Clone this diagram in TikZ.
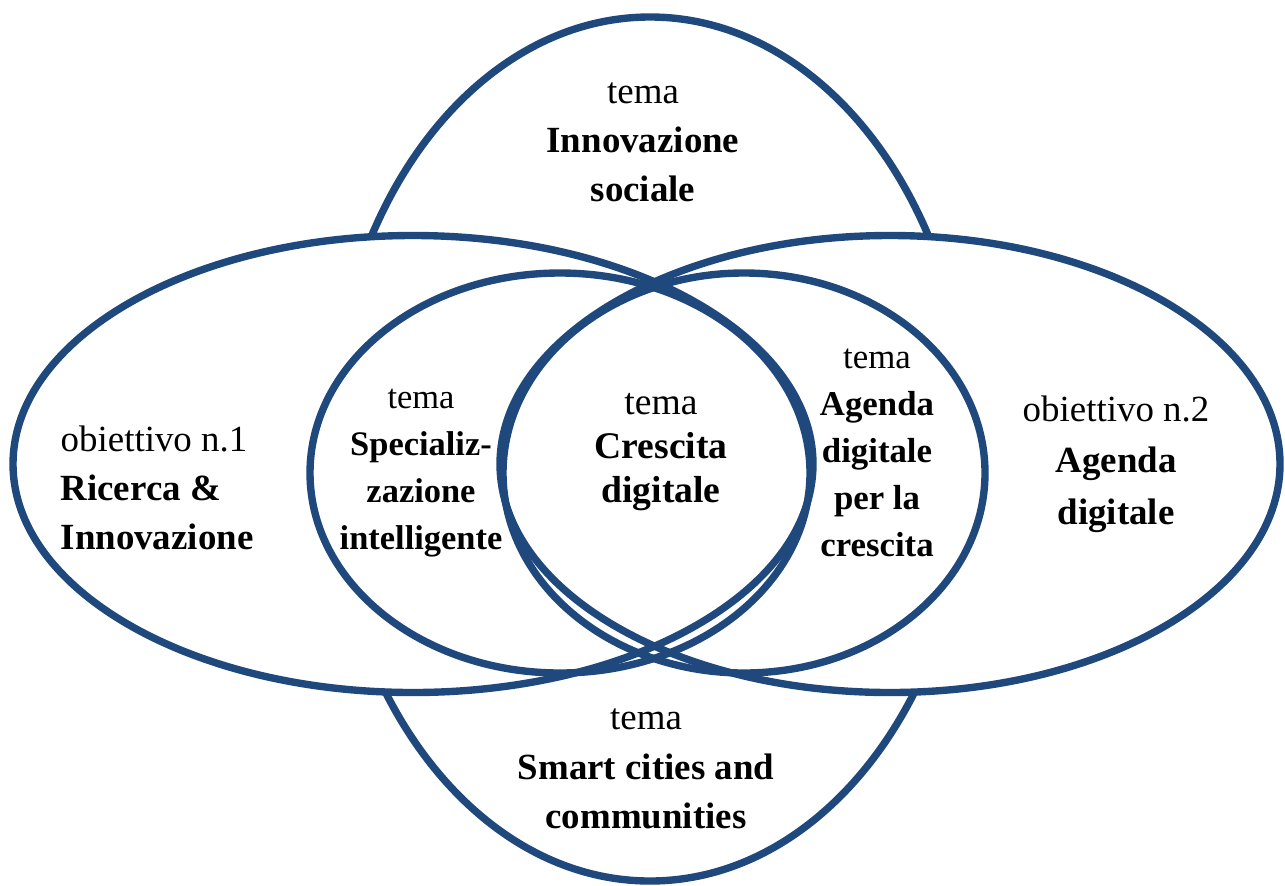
\documentclass[tikz,border=0pt]{standalone}
\usepackage{fontspec}
\setmainfont{Liberation Serif}
\definecolor{ringblue}{HTML}{1F497D}
\newcommand{\tm}{tema}

\begin{document}
\begin{tikzpicture}
    \tikzstyle{ring}=[draw=ringblue, line width=2.1pt]
    \tikzstyle{txt}=[align=center, inner sep=0pt, font=\fontsize{10.5}{14}\selectfont]
    \useasboundingbox (0,0) rectangle (12.85,8.85);
    \draw[ring] (6.50,4.36) ellipse [x radius=3.20, y radius=4.32];
    \fill[white] (4.13,4.21) ellipse [x radius=4.00, y radius=2.285];
    \fill[white] (8.90,4.21) ellipse [x radius=3.90, y radius=2.285];
    \draw[ring] (4.13,4.21) ellipse [x radius=4.00, y radius=2.285];
    \draw[ring] (8.90,4.21) ellipse [x radius=3.90, y radius=2.285];
    \draw[ring] (5.60,4.12) ellipse [x radius=2.50, y radius=2.00];
    \draw[ring] (7.44,4.12) ellipse [x radius=2.41, y radius=2.00];
    \node[txt] (sociale) at (6.43,7.43) {\tm\\\textbf{Innovazione}\\\textbf{sociale}};
    \node[txt, align=left, anchor=west] (ricerca) at (0.60,3.97) {obiettivo n.1\\\textbf{Ricerca \&}\\\textbf{Innovazione}};
    \node[txt, font=\fontsize{9.8}{13.3}\selectfont] (smart) at (4.21,4.12) {\tm\\\textbf{Specializ-}\\\textbf{zazione}\\\textbf{intelligente}};
    \node[txt, font=\fontsize{10.7}{12.6}\selectfont] (crescita) at (6.61,4.33) {\tm\\\textbf{Crescita}\\\textbf{digitale}};
    \node[txt, font=\fontsize{9.9}{13.4}\selectfont] (agcresc) at (8.77,4.32) {\tm\\\textbf{Agenda}\\\textbf{digitale}\\\textbf{per la}\\\textbf{crescita}};
    \node[txt, font=\fontsize{10.5}{14.6}\selectfont] (agenda) at (11.16,4.21) {obiettivo n.2\\\textbf{Agenda}\\\textbf{digitale}};
    \node[txt] (cities) at (6.46,1.16) {\tm\\\textbf{Smart cities and}\\\textbf{communities}};
\end{tikzpicture}
\end{document}
